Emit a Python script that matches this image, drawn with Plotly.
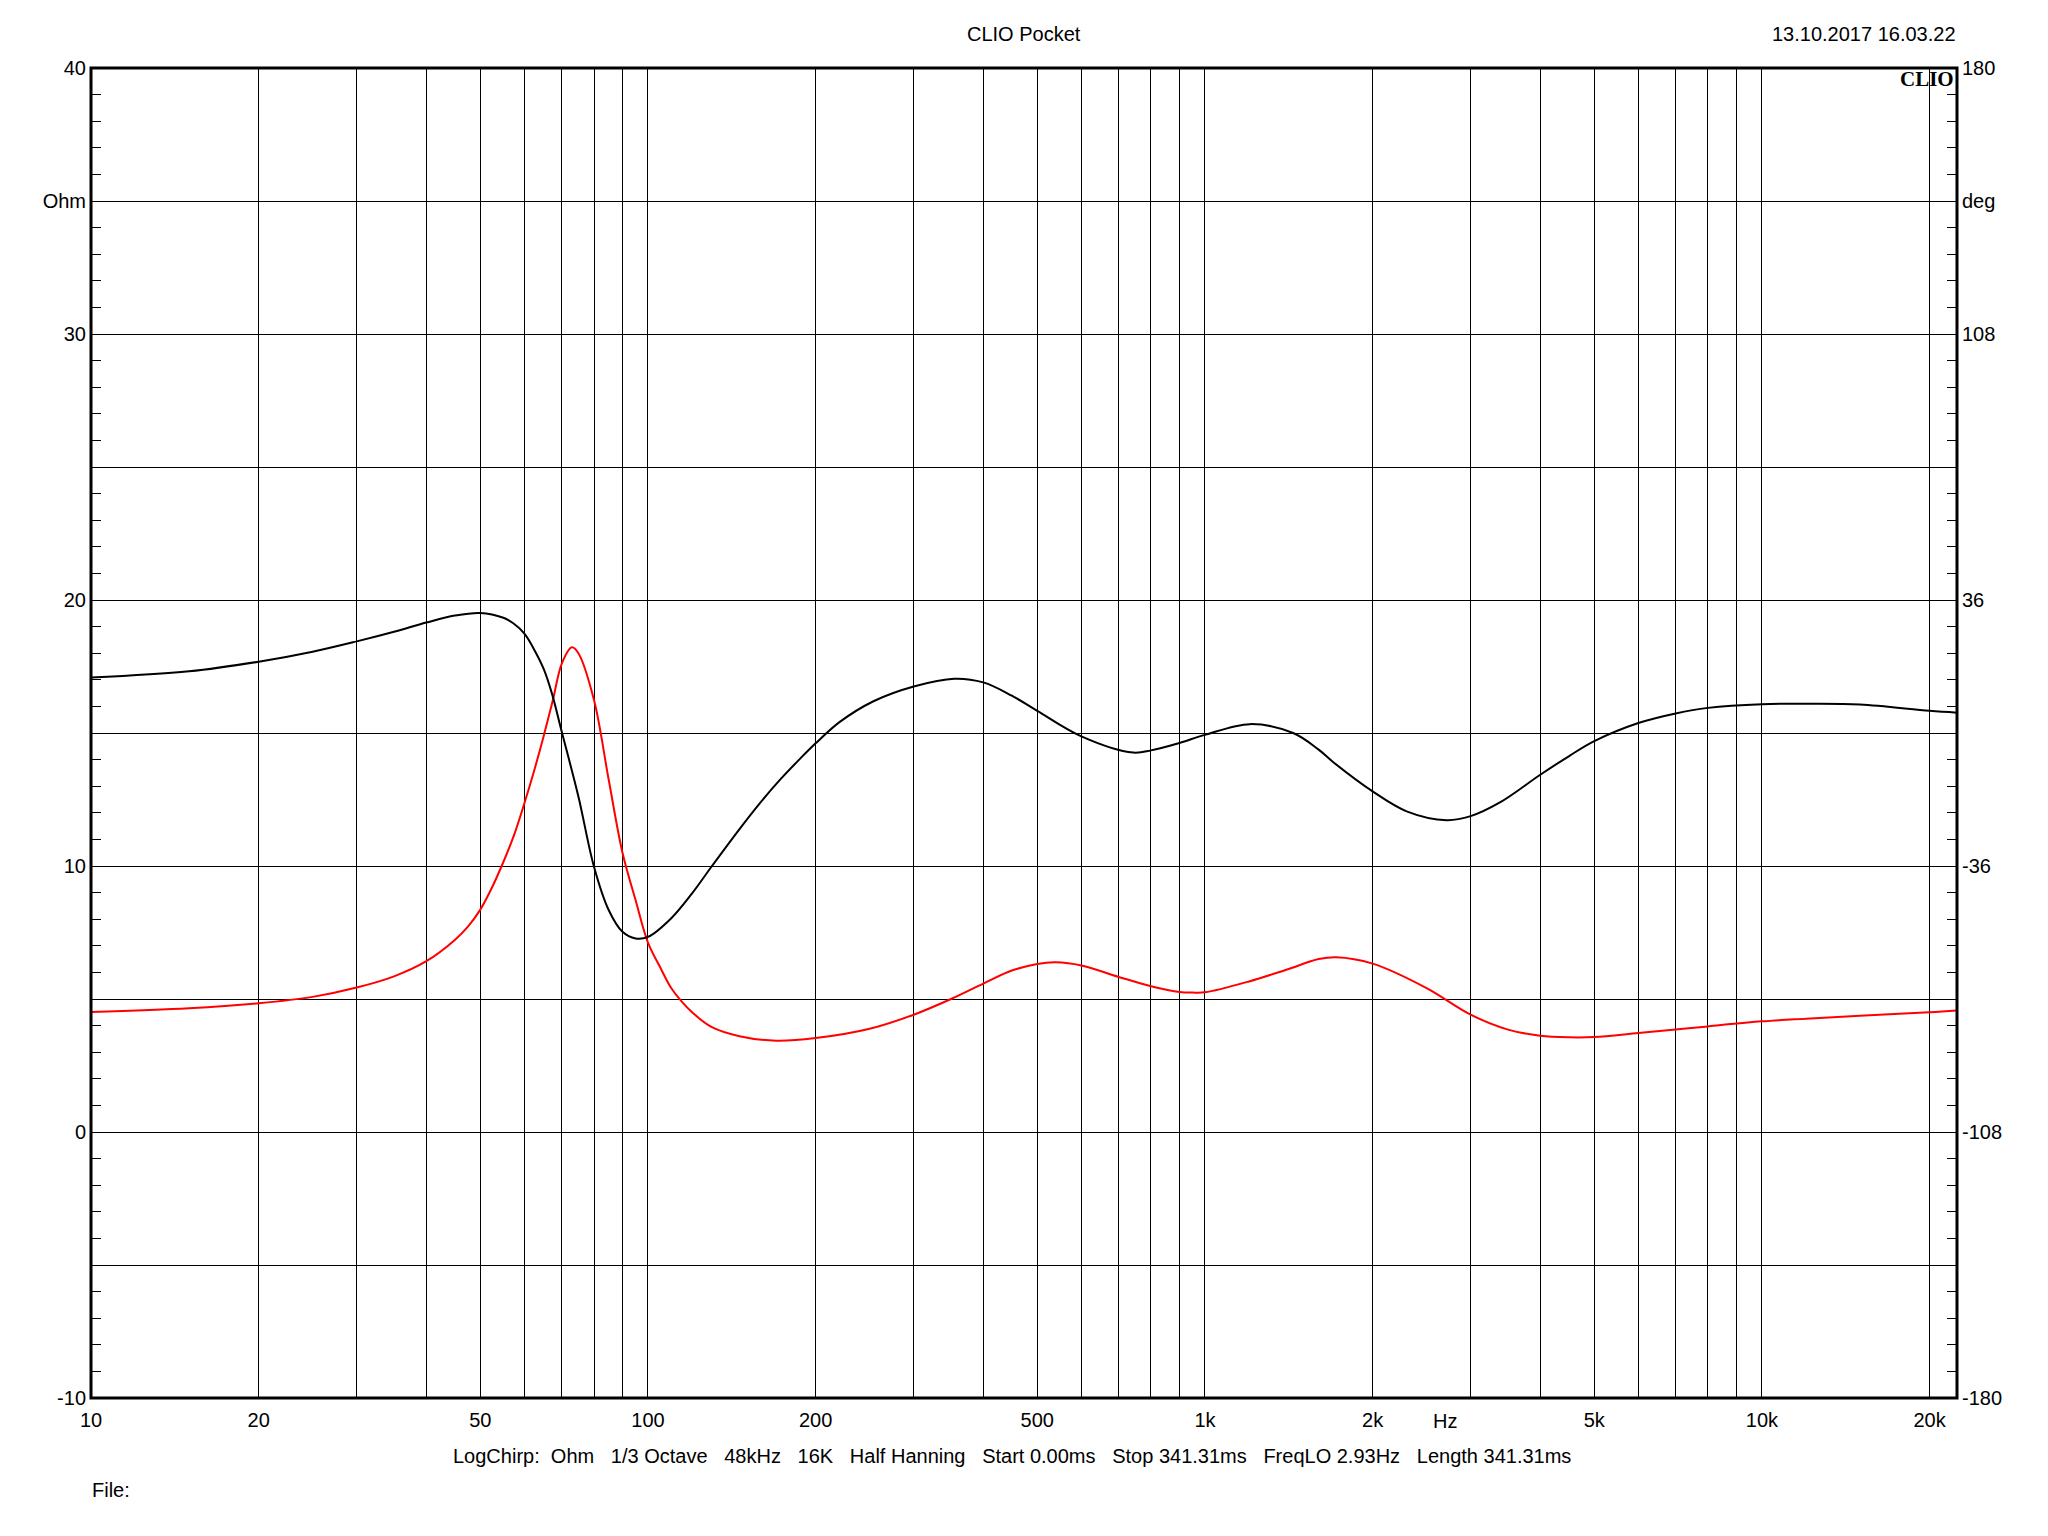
import math
import plotly.graph_objects as go

# ---------------- data ----------------
# Impedance magnitude (red, left axis, Ohm)
imp_freq = [10, 15, 20, 25, 30, 35, 40, 45, 47.5, 50,
            52.5, 55, 57.5, 60, 62.5, 65, 67.5, 70, 73, 75,
            80, 85, 90, 95, 100, 105, 110, 115, 120, 130,
            146, 170, 200, 250, 300, 350, 400, 450, 500, 540,
            600, 700, 800, 900, 950, 1000, 1200, 1400, 1600, 1720,
            2000, 2500, 3000, 3500, 4000, 4500, 5000, 6000, 7000, 8000,
            10000, 12000, 15000, 20000, 22400]
imp_ohm = [4.51, 4.65, 4.84, 5.08, 5.43, 5.85, 6.42, 7.22, 7.72, 8.36,
           9.20, 10.15, 11.17, 12.36, 13.6, 14.9, 16.24, 17.6, 18.22, 18.0,
           16.24, 13.25, 10.5, 8.72, 7.12, 6.22, 5.42, 4.90, 4.5, 3.95,
           3.6, 3.43, 3.53, 3.88, 4.41, 5.0, 5.58, 6.07, 6.32, 6.38,
           6.26, 5.83, 5.48, 5.26, 5.24, 5.25, 5.66, 6.10, 6.50, 6.57,
           6.33, 5.41, 4.41, 3.85, 3.62, 3.56, 3.57, 3.72, 3.85, 3.97,
           4.16, 4.26, 4.37, 4.50, 4.57]

# Impedance phase (black, right axis, deg)
ph_freq = [10, 15, 20, 25, 30, 35, 40, 45, 50, 55,
           57.3, 60, 62.2, 65, 67.2, 70, 75, 80, 85, 90,
           95, 100, 110, 120, 130, 146, 159, 173, 188, 200,
           221, 254, 300, 355, 400, 450, 500, 600, 743, 800,
           900, 1000, 1204, 1440, 1600, 1700, 2000, 2302, 2716, 3000,
           3385, 4000, 4500, 5000, 6000, 7000, 8000, 10000, 12000, 15000,
           20000, 22400]
ph_deg = [15.0, 16.7, 19.3, 22.0, 24.8, 27.4, 29.9, 31.8, 32.5, 31.2,
          29.7, 26.9, 23.1, 17.3, 10.8, 0.4, -17.2, -36.2, -47.9, -53.8,
          -55.6, -55.2, -50.2, -43.4, -36.2, -26.0, -18.9, -12.5, -6.8, -2.8,
          3.0, 8.6, 12.6, 14.7, 13.7, 10.1, 6.0, -0.9, -5.3, -4.7,
          -2.7, -0.5, 2.4, 0.0, -4.5, -7.9, -15.8, -21.2, -23.6, -22.5,
          -18.8, -11.3, -6.3, -2.2, 2.7, 5.3, 6.8, 7.8, 7.9, 7.7,
          6.0, 5.5]

# axis ticks / labels
x_grid = [10, 20, 30, 40, 50, 60, 70, 80, 90,
          100, 200, 300, 400, 500, 600, 700, 800, 900,
          1000, 2000, 3000, 4000, 5000, 6000, 7000, 8000, 9000,
          10000, 20000]
x_labels = {10: "10", 20: "20", 50: "50", 100: "100", 200: "200", 500: "500",
            1000: "1k", 2000: "2k", 5000: "5k", 10000: "10k", 20000: "20k"}
y_ticks = [-10, -5, 0, 5, 10, 15, 20, 25, 30, 35, 40]
y_labels = ["-10", "", "0", "", "10", "", "20", "", "30", "Ohm", "40"]
y2_ticks = [-180, -108, -36, 36, 108, 144, 180]
y2_labels = ["-180", "-108", "-36", "36", "108", "deg", "180"]

title_text = "CLIO Pocket"
date_text = "13.10.2017 16.03.22"
logo_text = "CLIO"
unit_text = "Hz"
unit_freq = 2700
info_text = ("LogChirp:  Ohm   1/3 Octave   48kHz   16K   Half Hanning   "
             "Start 0.00ms   Stop 341.31ms   FreqLO 2.93Hz   Length 341.31ms")
file_text = "File:"

# ---------------- layout geometry ----------------
W, H = 2048, 1536
L, R, T, B = 91, 91, 68, 138
PW, PH = W - L - R, H - T - B
X_MAX = 22400


def px(x):
    return (x - L) / PW


def py(y):
    return (H - B - y) / PH


FONT = "Liberation Sans, Arial, sans-serif"
FS = 20
NB = "\u00a0"

fig = go.Figure()
fig.add_trace(go.Scatter(x=ph_freq, y=ph_deg, yaxis="y2", mode="lines",
                         line=dict(color="black", width=2, shape="spline", smoothing=1.0),
                         hoverinfo="skip", showlegend=False))
fig.add_trace(go.Scatter(x=imp_freq, y=imp_ohm, mode="lines",
                         line=dict(color="#ff0000", width=2, shape="spline", smoothing=1.0),
                         hoverinfo="skip", showlegend=False))

fig.update_layout(
    width=W, height=H,
    margin=dict(l=L, r=R, t=T, b=B, pad=0),
    paper_bgcolor="white", plot_bgcolor="white",
    font=dict(family=FONT, size=FS, color="black"),
    showlegend=False,
    xaxis=dict(
        type="log", range=[1, math.log10(X_MAX)],
        tickmode="array", tickvals=x_grid,
        ticktext=[x_labels.get(v, "") for v in x_grid],
        showgrid=True, gridcolor="black", gridwidth=1,
        ticks="", showline=False, zeroline=False,
        ticklabelstandoff=8,
    ),
    yaxis=dict(
        range=[-10, 40], tickmode="array", tickvals=y_ticks, ticktext=y_labels,
        showgrid=True, gridcolor="black", gridwidth=1,
        ticks="inside", ticklen=10, tickwidth=1, tickcolor="black",
        minor=dict(tickmode="array", tickvals=list(range(-10, 41)),
                   ticks="inside", ticklen=10, tickwidth=1, tickcolor="black", showgrid=False),
        showline=False, zeroline=False, ticklabelstandoff=4,
    ),
    yaxis2=dict(
        range=[-180, 180], overlaying="y", side="right",
        tickmode="array", tickvals=y2_ticks, ticktext=y2_labels,
        showgrid=False, zeroline=False, showline=False,
        ticks="inside", ticklen=10, tickwidth=1, tickcolor="black",
        minor=dict(tickmode="array", tickvals=[-180 + 7.2 * i for i in range(51)],
                   ticks="inside", ticklen=10, tickwidth=1, tickcolor="black", showgrid=False),
        ticklabelstandoff=4,
    ),
)

# frame
fig.add_shape(type="rect", xref="paper", yref="paper", x0=0, x1=1, y0=0, y1=1,
              line=dict(color="black", width=3), layer="above")

ann = []
ann.append(dict(text=title_text, x=px(1024), y=py(34), xanchor="center", yanchor="middle"))
ann.append(dict(text=date_text, x=px(1957), y=py(34), xanchor="right", yanchor="middle"))
ann.append(dict(text="<b>" + logo_text + "</b>", x=px(1955), y=py(79), xanchor="right",
                yanchor="middle", font=dict(family="Liberation Serif, Times New Roman, serif",
                                            size=21, color="black")))
ann.append(dict(text=unit_text, x=math.log10(unit_freq), xref="x", y=py(1421),
                xanchor="center", yanchor="middle"))
ann.append(dict(text=info_text.replace(" ", NB), x=px(1012), y=py(1456),
                xanchor="center", yanchor="middle"))
ann.append(dict(text=file_text, x=px(91), y=py(1490), xanchor="left", yanchor="middle"))
for a in ann:
    a.setdefault("xref", "paper")
    a["yref"] = "paper"
    a["showarrow"] = False
    a["borderpad"] = 0
    fig.add_annotation(**a)

fig.write_html("out.html", config={"displayModeBar": False},
               post_script="document.body.style.margin='0px';")
